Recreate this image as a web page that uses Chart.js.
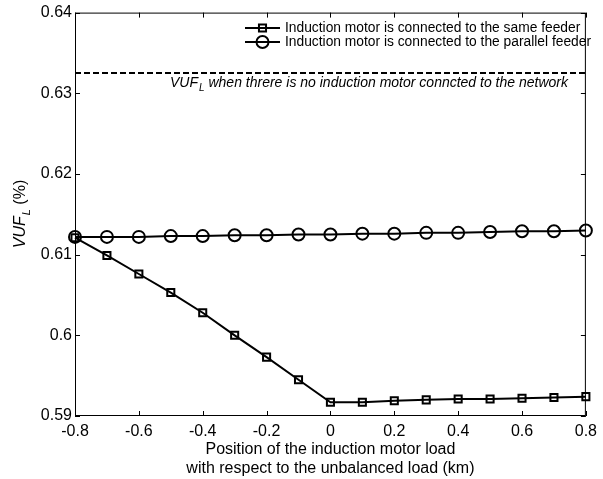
<!DOCTYPE html>
<html>
<head>
<meta charset="utf-8">
<script src="https://cdn.jsdelivr.net/npm/chart.js@4.4.0/dist/chart.umd.min.js"></script>
<style>
  html, body { margin: 0; padding: 0; background: #fff; }
  canvas { display: block; }
</style>
</head>
<body>
<canvas id="chart" width="603" height="479"></canvas>
<script>
// motor position relative to the unbalanced load (km)
const positions = [-0.8, -0.7, -0.6, -0.5, -0.4, -0.3, -0.2, -0.1, 0, 0.1, 0.2, 0.3, 0.4, 0.5, 0.6, 0.7, 0.8];
const sameFeeder = [0.6121, 0.6099, 0.6076, 0.6053, 0.6028, 0.6000, 0.5973, 0.5945, 0.5917, 0.5917, 0.5919, 0.5920, 0.5921, 0.5921, 0.5922, 0.5923, 0.5924];
const parallelFeeder = [0.6122, 0.6122, 0.6122, 0.6123, 0.6123, 0.6124, 0.6124, 0.6125, 0.6125, 0.6126, 0.6126, 0.6127, 0.6127, 0.6128, 0.6129, 0.6129, 0.6130];
const noMotorLevel = 0.6325;
const xTicks = [-0.8, -0.6, -0.4, -0.2, 0, 0.2, 0.4, 0.6, 0.8];
const yTicks = [0.59, 0.6, 0.61, 0.62, 0.63, 0.64];
const legendLabels = ["Induction motor is connected to the same feeder", "Induction motor is connected to the parallel feeder"];

const FONT = "'Liberation Sans', Arial, sans-serif";

function fmt(v) {
    return String(+v.toFixed(2));
}

// matlab-ish box with inward ticks, legend, note and y title
const decorations = {
    id: "decorations",
    afterDraw(chart) {
        const ctx = chart.ctx;
        const area = chart.chartArea;
        const xs = chart.scales.x;
        const ys = chart.scales.y;
        const tl = 5;

        ctx.save();
        ctx.strokeStyle = "#000";
        ctx.lineWidth = 1;
        ctx.strokeRect(area.left + 0.5, area.top + 0.5, area.right - area.left - 1, area.bottom - area.top - 1);

        ctx.beginPath();
        xTicks.forEach((v) => {
            const px = Math.round(xs.getPixelForValue(v)) + 0.5;
            ctx.moveTo(px, area.bottom);
            ctx.lineTo(px, area.bottom - tl);
            ctx.moveTo(px, area.top);
            ctx.lineTo(px, area.top + tl);
        });
        yTicks.forEach((v) => {
            const py = Math.round(ys.getPixelForValue(v)) + 0.5;
            ctx.moveTo(area.left, py);
            ctx.lineTo(area.left + tl, py);
            ctx.moveTo(area.right, py);
            ctx.lineTo(area.right - tl, py);
        });
        ctx.stroke();

        // legend
        const rows = [28, 42];
        const sets = chart.data.datasets;
        ctx.fillStyle = "#000";
        ctx.font = "13.8px " + FONT;
        ctx.textBaseline = "middle";
        rows.forEach((ry, i) => {
            const ds = sets[i];
            ctx.lineWidth = 2;
            ctx.beginPath();
            ctx.moveTo(245, ry);
            ctx.lineTo(280, ry);
            ctx.stroke();
            ctx.beginPath();
            if (ds.pointStyle === "rect") {
                const s = ds.pointRadius * Math.SQRT1_2;
                ctx.rect(262.5 - s, ry - s, 2 * s, 2 * s);
            } else {
                ctx.arc(262.5, ry, ds.pointRadius, 0, Math.PI * 2);
            }
            ctx.stroke();
            ctx.fillText(legendLabels[i], 285, ry);
        });

        // note under the dashed line
        let x = 170;
        const ny = 83;
        ctx.font = "italic 14px " + FONT;
        ctx.fillText("VUF", x, ny);
        x += ctx.measureText("VUF").width;
        ctx.font = "italic 10px " + FONT;
        ctx.fillText("L", x + 1, ny + 5);
        x += ctx.measureText("L").width + 1;
        ctx.font = "italic 14px " + FONT;
        ctx.fillText(" when threre is no induction motor conncted to the network", x, ny);

        // y axis title
        ctx.translate(21, 214);
        ctx.rotate(-Math.PI / 2);
        ctx.font = "italic 16px " + FONT;
        const w1 = ctx.measureText("VUF").width;
        ctx.font = "italic 11px " + FONT;
        const w2 = ctx.measureText("L").width + 1;
        ctx.font = "16px " + FONT;
        const w3 = ctx.measureText(" (%)").width;
        let tx = -(w1 + w2 + w3) / 2;
        ctx.font = "italic 16px " + FONT;
        ctx.fillText("VUF", tx, 0);
        tx += w1;
        ctx.font = "italic 11px " + FONT;
        ctx.fillText("L", tx + 1, 6);
        tx += w2;
        ctx.font = "16px " + FONT;
        ctx.fillText(" (%)", tx, 0);
        ctx.restore();
    }
};

const ctx = document.getElementById("chart").getContext("2d");

new Chart(ctx, {
    type: "line",
    data: {
        datasets: [
            {
                label: legendLabels[0],
                data: positions.map((p, i) => ({ x: p, y: sameFeeder[i] })),
                borderColor: "#000",
                borderWidth: 2,
                pointStyle: "rect",
                pointRadius: 5,
                pointBorderWidth: 2,
                pointBorderColor: "#000",
                pointBackgroundColor: "rgba(0,0,0,0)",
                clip: false
            },
            {
                label: legendLabels[1],
                data: positions.map((p, i) => ({ x: p, y: parallelFeeder[i] })),
                borderColor: "#000",
                borderWidth: 2,
                pointStyle: "circle",
                pointRadius: 6,
                pointBorderWidth: 2,
                pointBorderColor: "#000",
                pointBackgroundColor: "rgba(0,0,0,0)",
                clip: false
            },
            {
                label: "no motor",
                data: [
                    { x: positions[0], y: noMotorLevel },
                    { x: positions[positions.length - 1], y: noMotorLevel }
                ],
                borderColor: "#000",
                borderWidth: 2,
                borderDash: [6, 3],
                pointRadius: 0
            }
        ]
    },
    options: {
        responsive: false,
        animation: false,
        layout: { padding: { top: 11, right: 11, left: 0, bottom: 0 } },
        plugins: {
            legend: { display: false },
            tooltip: { enabled: false }
        },
        scales: {
            x: {
                type: "linear",
                min: -0.8,
                max: 0.8,
                afterBuildTicks: (scale) => { scale.ticks = xTicks.map((v) => ({ value: v })); },
                afterFit: (scale) => { scale.height = 63; },
                grid: { display: false, drawTicks: false },
                border: { display: false },
                ticks: {
                    callback: (v) => fmt(v),
                    color: "#000",
                    padding: 6,
                    maxRotation: 0,
                    font: { family: FONT, size: 16 }
                },
                title: {
                    display: true,
                    text: ["Position of the induction motor load", "with respect to the unbalanced load (km)"],
                    color: "#000",
                    font: { family: FONT, size: 16, lineHeight: 1.17 },
                    padding: { top: 0, bottom: 1 }
                }
            },
            y: {
                type: "linear",
                min: 0.59,
                max: 0.64,
                afterBuildTicks: (scale) => { scale.ticks = yTicks.map((v) => ({ value: v })); },
                afterFit: (scale) => { scale.width = 75; },
                grid: { display: false, drawTicks: false },
                border: { display: false },
                ticks: {
                    callback: (v) => fmt(v),
                    color: "#000",
                    padding: 3,
                    font: { family: FONT, size: 16 }
                }
            }
        }
    },
    plugins: [decorations]
});
</script>
</body>
</html>
